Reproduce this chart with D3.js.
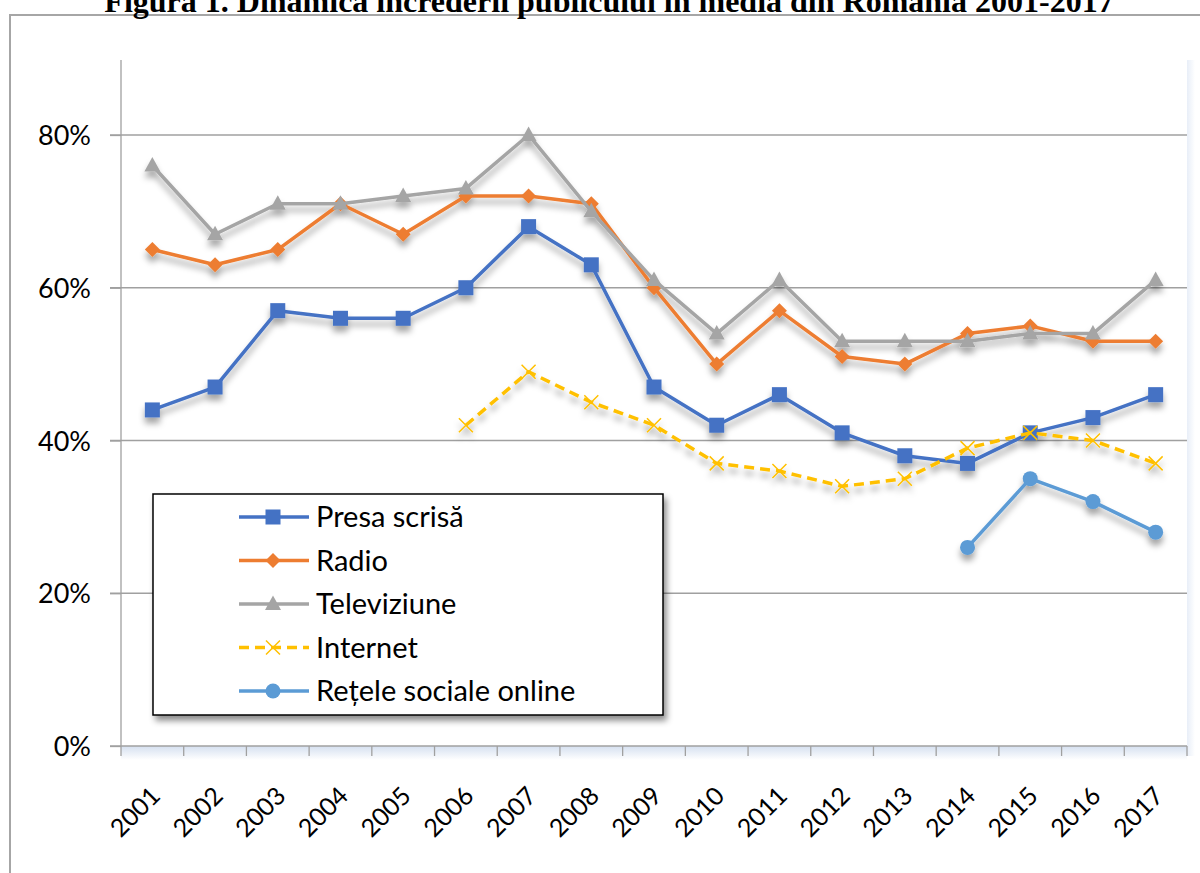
<!DOCTYPE html>
<html>
<head>
<meta charset="utf-8">
<script src="https://cdn.jsdelivr.net/npm/d3@7"></script>
<style>
html,body{margin:0;padding:0;background:#fff;}
svg{display:block;}
</style>
</head>
<body>
<svg id="chart" width="1200" height="873"></svg>
<script>
const years = ["2001","2002","2003","2004","2005","2006","2007","2008","2009","2010","2011","2012","2013","2014","2015","2016","2017"];
const presaScrisa = [44,47,57,56,56,60,68,63,47,42,46,41,38,37,41,43,46];
const radio =       [65,63,65,71,67,72,72,71,60,50,57,51,50,54,55,53,53];
const televiziune = [76,67,71,71,72,73,80,70,61,54,61,53,53,53,54,54,61];
const internet =    [null,null,null,null,null,42,49,45,42,37,36,34,35,39,41,40,37];
const reteleSociale=[null,null,null,null,null,null,null,null,null,null,null,null,null,26,35,32,28];
const yTicks = [0,20,40,60,80];
const seriesNames = ["Presa scrisă","Radio","Televiziune","Internet","Rețele sociale online"];
const title = "Figura 1. Dinamica increderii publicului in media din Romania 2001-2017";

const series = [
  {name: seriesNames[0], values: presaScrisa, color:"#4472c4", marker:"square", dash:null},
  {name: seriesNames[1], values: radio, color:"#ed7d31", marker:"diamond", dash:null},
  {name: seriesNames[2], values: televiziune, color:"#a5a5a5", marker:"triangle", dash:null},
  {name: seriesNames[3], values: internet, color:"#ffc000", marker:"x", dash:"10,6"},
  {name: seriesNames[4], values: reteleSociale, color:"#5b9bd5", marker:"circle", dash:null}
];

const svg = d3.select("#chart");
const defs = svg.append("defs");
const sh = defs.append("filter").attr("id","shadow").attr("x","-20%").attr("y","-20%").attr("width","140%").attr("height","160%");
sh.append("feDropShadow").attr("dx",0).attr("dy",6).attr("stdDeviation",3).attr("flood-color","#000").attr("flood-opacity",0.35);
const sh2 = defs.append("filter").attr("id","lshadow").attr("x","-10%").attr("y","-10%").attr("width","120%").attr("height","130%");
sh2.append("feDropShadow").attr("dx",3).attr("dy",5).attr("stdDeviation",3).attr("flood-color","#000").attr("flood-opacity",0.45);
const grad = defs.append("linearGradient").attr("id","band").attr("x1",0).attr("y1",0).attr("x2",0).attr("y2",1);
grad.append("stop").attr("offset","0%").attr("stop-color","#d5e0f0");
grad.append("stop").attr("offset","100%").attr("stop-color","#ffffff");
const gradR = defs.append("linearGradient").attr("id","bandR").attr("x1",0).attr("y1",0).attr("x2",1).attr("y2",0);
gradR.append("stop").attr("offset","0%").attr("stop-color","#e8eef8");
gradR.append("stop").attr("offset","100%").attr("stop-color","#ffffff");

// outer frame
svg.append("rect").attr("x",10).attr("y",15).attr("width",1200).attr("height",900)
  .attr("fill","none").attr("stroke","#a6a6a6").attr("stroke-width",2);

// title (cut off at the top edge, as in the reference)
svg.append("text").attr("x",609).attr("y",12).attr("text-anchor","middle")
  .attr("font-family","'Liberation Serif','Times New Roman',serif").attr("font-weight","bold")
  .attr("font-size",32).text(title);

const pLeft = 121, pRight = 1187, pTop = 58.6, pBottom = 746;
const x = d3.scaleBand().domain(years).range([pLeft,pRight]).padding(0);
const y = d3.scaleLinear().domain([0,90]).range([pBottom,pTop]);

// light bands
svg.append("rect").attr("x",pLeft).attr("y",pBottom).attr("width",pRight-pLeft).attr("height",14).attr("fill","url(#band)");
svg.append("rect").attr("x",pRight).attr("y",60).attr("width",8).attr("height",pBottom-60+10).attr("fill","url(#bandR)");

// gridlines
const grid = svg.append("g");
grid.selectAll("line").data(yTicks.filter(d=>d>0)).join("line")
  .attr("x1",pLeft-11).attr("x2",pRight).attr("y1",d=>y(d)).attr("y2",d=>y(d))
  .attr("stroke","#a0a0a0").attr("stroke-width",1.3);

// y axis
const yAxis = d3.axisLeft(y).tickValues(yTicks).tickSize(11).tickFormat(d=>d+"%");
const yg = svg.append("g").attr("transform",`translate(${pLeft},0)`).call(yAxis);
yg.select(".domain").remove();
yg.append("line").attr("x1",0).attr("x2",0).attr("y1",60).attr("y2",pBottom).attr("stroke","#a0a0a0").attr("stroke-width",1.3);
yg.selectAll(".tick line").attr("stroke","#a0a0a0").attr("stroke-width",1.3);
yg.selectAll(".tick text").attr("font-family","Lato, 'Open Sans', sans-serif").attr("font-size",27)
  .attr("fill","#000").attr("x",-30).attr("dy","0.36em");

// x axis
const xg = svg.append("g");
xg.append("line").attr("x1",pLeft-11).attr("x2",pRight).attr("y1",pBottom).attr("y2",pBottom).attr("stroke","#a0a0a0").attr("stroke-width",1.3);
const bounds = years.map(d=>x(d)).concat([pRight]);
xg.selectAll("line.tk").data(bounds).join("line").attr("class","tk")
  .attr("x1",d=>d).attr("x2",d=>d).attr("y1",pBottom).attr("y2",pBottom+10)
  .attr("stroke","#a0a0a0").attr("stroke-width",1.3);
xg.selectAll("text").data(years).join("text")
  .attr("transform",d=>`translate(${x(d)+x.bandwidth()/2-3},${pBottom+39}) rotate(-45)`)
  .attr("text-anchor","end").attr("dy","0.7em")
  .attr("font-family","Lato, 'Open Sans', sans-serif").attr("font-size",25).attr("fill","#000")
  .text(d=>d);

// markers
function drawMarker(g, type, color, cx, cy){
  if(type==="square"){
    g.append("rect").attr("x",cx-7.5).attr("y",cy-7.5).attr("width",15).attr("height",15).attr("fill",color);
  } else if(type==="diamond"){
    g.append("path").attr("d",`M${cx},${cy-7.5}L${cx+7.5},${cy}L${cx},${cy+7.5}L${cx-7.5},${cy}Z`).attr("fill",color);
  } else if(type==="triangle"){
    g.append("path").attr("d",`M${cx},${cy-8.5}L${cx+8},${cy+6}L${cx-8},${cy+6}Z`).attr("fill",color);
  } else if(type==="circle"){
    g.append("circle").attr("cx",cx).attr("cy",cy).attr("r",7.5).attr("fill",color);
  } else if(type==="x"){
    g.append("path").attr("d",`M${cx-7},${cy-7}L${cx+7},${cy+7}M${cx-7},${cy+7}L${cx+7},${cy-7}`)
      .attr("stroke",color).attr("stroke-width",1.5).attr("fill","none");
  }
}

const cxOf = i => x(years[i]) + x.bandwidth()/2;
const line = d3.line().defined(d=>d!=null).x((d,i)=>cxOf(i)).y(d=>y(d));

const plot = svg.append("g").attr("filter","url(#shadow)");
series.forEach(s=>{
  const g = plot.append("g");
  g.append("path").datum(s.values).attr("d",line).attr("fill","none")
    .attr("stroke",s.color).attr("stroke-width",3.5).attr("stroke-linejoin","round")
    .attr("stroke-dasharray",s.dash);
  s.values.forEach((v,i)=>{ if(v!=null) drawMarker(g, s.marker, s.color, cxOf(i), y(v)); });
});

// legend
const lg = svg.append("g");
lg.append("rect").attr("x",153).attr("y",494).attr("width",510).attr("height",221)
  .attr("fill","#fff").attr("stroke","#000").attr("stroke-width",1.5).attr("filter","url(#lshadow)");
series.forEach((s,i)=>{
  const yy = 517 + i*43.5;
  lg.append("line").attr("x1",239).attr("x2",309).attr("y1",yy).attr("y2",yy)
    .attr("stroke",s.color).attr("stroke-width",3.5).attr("stroke-dasharray",s.dash);
  drawMarker(lg, s.marker, s.color, 273, yy);
  lg.append("text").attr("x",316).attr("y",yy).attr("dy","0.36em")
    .attr("font-family","Lato, 'Open Sans', sans-serif").attr("font-size",29).attr("fill","#000").text(s.name);
});
</script>
</body>
</html>
